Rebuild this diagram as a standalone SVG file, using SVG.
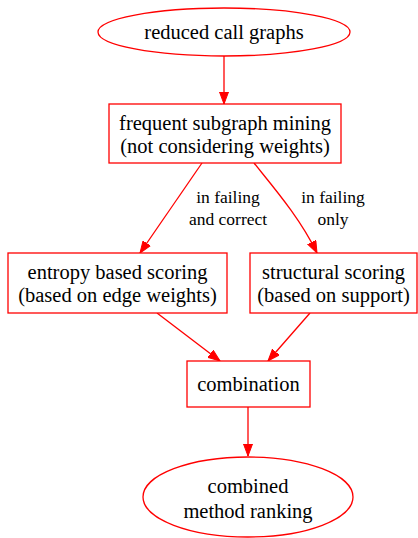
<svg xmlns="http://www.w3.org/2000/svg" width="418" height="538" viewBox="0 0 418 538">
<style>
.n{fill:#fff;stroke:#f00;stroke-width:1.3}
.e{fill:none;stroke:#f00;stroke-width:1.3}
text{font-family:"Liberation Serif","Times New Roman",serif;fill:#000;text-anchor:middle}
.t{font-size:20.5px}
.l{font-size:17.5px}
</style>
<defs>
<marker id="ah" markerUnits="userSpaceOnUse" markerWidth="14" markerHeight="10" refX="12" refY="5" orient="auto">
<polygon points="0,0.5 12,5 0,9.5" fill="#f00" stroke="#f00"/>
</marker>
</defs>
<rect width="418" height="538" fill="#fff"/>
<g id="edges">
<path class="e" d="M224,56 L224,104" marker-end="url(#ah)"/>
<path class="e" d="M202,163 L140,253" marker-end="url(#ah)"/>
<path class="e" d="M254,163 C274,188 300,218 317,253" marker-end="url(#ah)"/>
<path class="e" d="M157,313 L220,361" marker-end="url(#ah)"/>
<path class="e" d="M310,313 L268,361" marker-end="url(#ah)"/>
<path class="e" d="M248,407 L248,456" marker-end="url(#ah)"/>
<text class="l" x="228" y="203">in failing</text>
<text class="l" x="228" y="225">and correct</text>
<text class="l" x="333" y="203">in failing</text>
<text class="l" x="333" y="225">only</text>
</g>
<g id="reduced">
<ellipse class="n" cx="224" cy="32" rx="126" ry="24"/>
<text class="t" x="224" y="39">reduced call graphs</text>
</g>
<g id="frequent">
<rect class="n" x="109" y="104" width="232" height="59"/>
<text class="t" x="225" y="130">frequent subgraph mining</text>
<text class="t" x="225" y="153">(not considering weights)</text>
</g>
<g id="entropy">
<rect class="n" x="8" y="253" width="219" height="60"/>
<text class="t" x="117.5" y="279">entropy based scoring</text>
<text class="t" x="117.5" y="302">(based on edge weights)</text>
</g>
<g id="structural">
<rect class="n" x="250" y="253" width="167" height="60"/>
<text class="t" x="333.5" y="279">structural scoring</text>
<text class="t" x="333.5" y="302">(based on support)</text>
</g>
<g id="combination">
<rect class="n" x="187" y="361" width="123" height="46"/>
<text class="t" x="248.5" y="391">combination</text>
</g>
<g id="combined">
<ellipse class="n" cx="248" cy="497" rx="105" ry="40"/>
<text class="t" x="248" y="493">combined</text>
<text class="t" x="248" y="518">method ranking</text>
</g>
</svg>
